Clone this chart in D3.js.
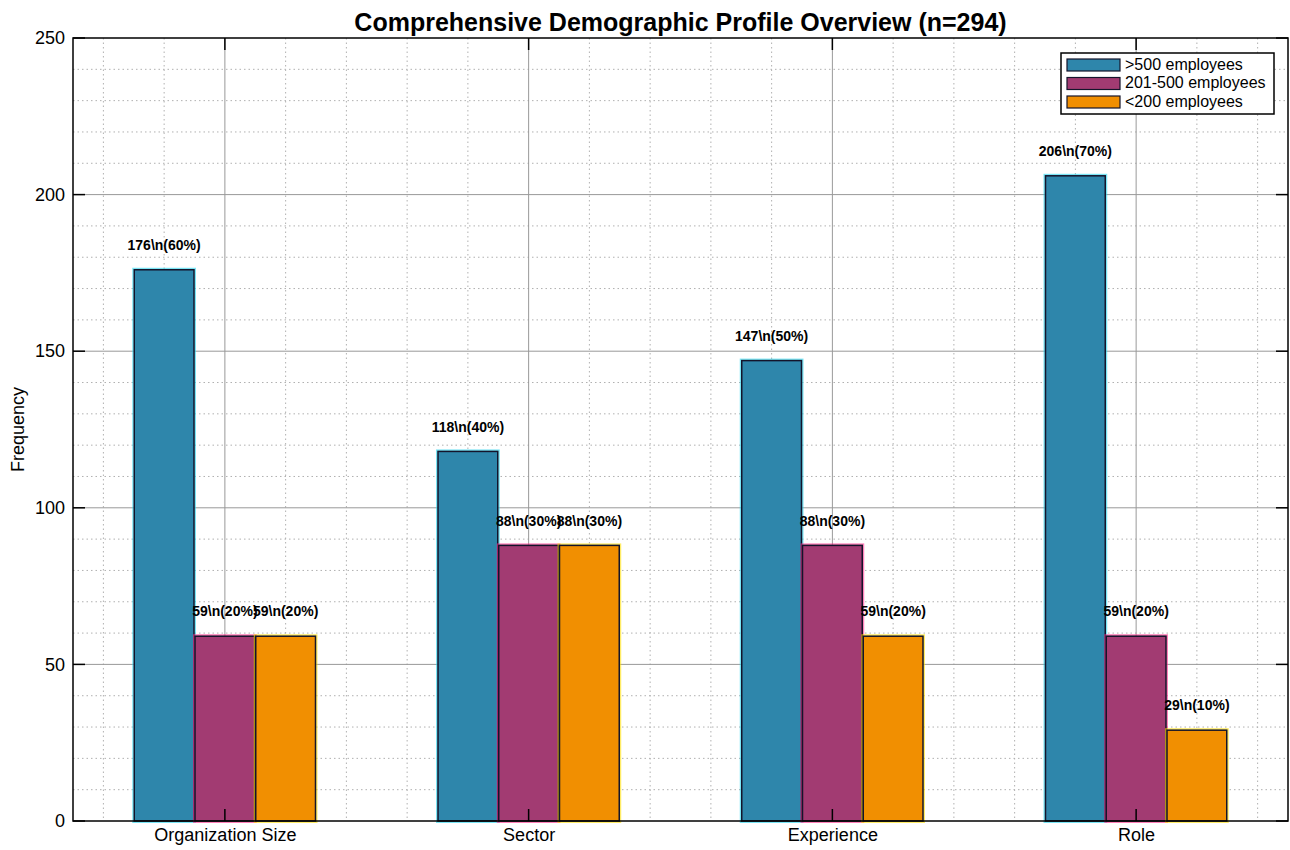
<!DOCTYPE html>
<html>
<head>
<meta charset="utf-8">
<script src="https://cdn.jsdelivr.net/npm/d3@7"></script>
<style>
  body { margin: 0; background: #fff; }
  svg { font-family: "Liberation Sans", Arial, sans-serif; }
</style>
</head>
<body>
<div id="chart"></div>
<script>
const width = 1290, height = 850;
const margin = {top: 38, right: 2, bottom: 29, left: 73};

// data
const categories = ['Organization Size', 'Sector', 'Experience', 'Role'];
const seriesNames = ['>500 employees', '201-500 employees', '<200 employees'];
const largeOrg = [176, 118, 147, 206];
const midOrg = [59, 88, 88, 59];
const smallOrg = [59, 88, 59, 29];
const largePct = [60, 40, 50, 70];
const midPct = [20, 30, 30, 20];
const smallPct = [20, 30, 20, 10];
const yTicks = [0, 50, 100, 150, 200, 250];

const colors = ['#2E86AB', '#A23B72', '#F18F01'];
const glow = ['#22d3ee', '#ff2d8a', '#ffe000'];
const seriesValues = [largeOrg, midOrg, smallOrg];
const seriesPcts = [largePct, midPct, smallPct];

const svg = d3.select('#chart')
    .append('svg')
    .attr('width', width)
    .attr('height', height);

const x = d3.scaleLinear()
    .domain([-0.5, categories.length - 0.5])
    .range([margin.left, width - margin.right]);

const y = d3.scaleLinear()
    .domain([0, 250])
    .range([height - margin.bottom, margin.top]);

const barW = 0.2;

// minor grid (dotted)
const minorX = d3.range(-0.4, categories.length - 0.5, 0.2).filter(v => Math.abs(v - Math.round(v)) > 0.05);
svg.append('g')
    .selectAll('line')
    .data(minorX)
    .enter().append('line')
    .attr('x1', d => x(d)).attr('x2', d => x(d))
    .attr('y1', y(250)).attr('y2', y(0))
    .attr('stroke', '#b0b0b0')
    .attr('stroke-width', 1)
    .attr('stroke-dasharray', '1.5,3');

const minorY = d3.range(10, 250, 10).filter(v => v % 50 !== 0);
svg.append('g')
    .selectAll('line')
    .data(minorY)
    .enter().append('line')
    .attr('x1', x.range()[0]).attr('x2', x.range()[1])
    .attr('y1', d => y(d)).attr('y2', d => y(d))
    .attr('stroke', '#b0b0b0')
    .attr('stroke-width', 1)
    .attr('stroke-dasharray', '1.5,3');

// major grid
svg.append('g')
    .selectAll('line')
    .data(d3.range(categories.length))
    .enter().append('line')
    .attr('x1', d => x(d)).attr('x2', d => x(d))
    .attr('y1', y(250)).attr('y2', y(0))
    .attr('stroke', '#999')
    .attr('stroke-width', 1);

svg.append('g')
    .selectAll('line')
    .data(yTicks.slice(1, -1))
    .enter().append('line')
    .attr('x1', x.range()[0]).attr('x2', x.range()[1])
    .attr('y1', d => y(d)).attr('y2', d => y(d))
    .attr('stroke', '#999')
    .attr('stroke-width', 1);

// bars
seriesValues.forEach((vals, s) => {
    const off = (s - 1) * barW;
    const g = svg.append('g');
    // glow edge
    g.selectAll('rect.glow')
        .data(vals)
        .enter().append('rect')
        .attr('x', (d, i) => x(i + off - barW / 2) + 0.5)
        .attr('y', d => y(d))
        .attr('width', x(barW) - x(0) - 1)
        .attr('height', d => y(0) - y(d))
        .attr('fill', colors[s])
        .attr('stroke', glow[s])
        .attr('stroke-width', 4)
        .attr('stroke-opacity', 0.6);
    g.selectAll('rect.bar')
        .data(vals)
        .enter().append('rect')
        .attr('class', 'bar')
        .attr('x', (d, i) => x(i + off - barW / 2) + 0.5)
        .attr('y', d => y(d))
        .attr('width', x(barW) - x(0) - 1)
        .attr('height', d => y(0) - y(d))
        .attr('fill', colors[s])
        .attr('stroke', '#14142b')
        .attr('stroke-width', 1.5);
});

// value labels
seriesValues.forEach((vals, s) => {
    const off = (s - 1) * barW;
    svg.append('g')
        .selectAll('text')
        .data(vals)
        .enter().append('text')
        .attr('x', (d, i) => x(i + off))
        .attr('y', d => y(d + 7.5))
        .attr('text-anchor', 'middle')
        .attr('dominant-baseline', 'middle')
        .attr('font-size', 14)
        .attr('font-weight', 'bold')
        .attr('fill', '#000')
        .text((d, i) => `${d}\\n(${seriesPcts[s][i]}%)`);
});

// frame
svg.append('rect')
    .attr('x', x.range()[0]).attr('y', y(250))
    .attr('width', x.range()[1] - x.range()[0])
    .attr('height', y(0) - y(250))
    .attr('fill', 'none')
    .attr('stroke', '#000')
    .attr('stroke-width', 1.5);

// axes with inward ticks
const yLeft = svg.append('g')
    .attr('transform', `translate(${x.range()[0]},0)`)
    .call(d3.axisLeft(y).tickValues(yTicks).tickSize(0).tickPadding(8));
yLeft.select('.domain').remove();
yLeft.selectAll('text').attr('font-size', 18).attr('font-family', '"Liberation Sans", Arial, sans-serif').attr('fill', '#000');

const xBottom = svg.append('g')
    .attr('transform', `translate(0,${y(0)})`)
    .call(d3.axisBottom(x).tickValues(d3.range(categories.length)).tickFormat(i => categories[i]).tickSize(0).tickPadding(7));
xBottom.select('.domain').remove();
xBottom.selectAll('text').attr('font-size', 18).attr('font-family', '"Liberation Sans", Arial, sans-serif').attr('fill', '#000');

// inward tick marks
const tickLen = 12;
svg.append('g').selectAll('line')
    .data(yTicks)
    .enter().append('line')
    .attr('x1', x.range()[0]).attr('x2', x.range()[0] + tickLen)
    .attr('y1', d => y(d)).attr('y2', d => y(d))
    .attr('stroke', '#000').attr('stroke-width', 1.5);
svg.append('g').selectAll('line')
    .data(yTicks)
    .enter().append('line')
    .attr('x1', x.range()[1]).attr('x2', x.range()[1] - tickLen)
    .attr('y1', d => y(d)).attr('y2', d => y(d))
    .attr('stroke', '#000').attr('stroke-width', 1.5);
svg.append('g').selectAll('line')
    .data(d3.range(categories.length))
    .enter().append('line')
    .attr('x1', d => x(d)).attr('x2', d => x(d))
    .attr('y1', y(0)).attr('y2', y(0) - tickLen)
    .attr('stroke', '#000').attr('stroke-width', 1.5);
svg.append('g').selectAll('line')
    .data(d3.range(categories.length))
    .enter().append('line')
    .attr('x1', d => x(d)).attr('x2', d => x(d))
    .attr('y1', y(250)).attr('y2', y(250) + tickLen)
    .attr('stroke', '#000').attr('stroke-width', 1.5);

// title
svg.append('text')
    .attr('x', (x.range()[0] + x.range()[1]) / 2)
    .attr('y', 31)
    .attr('text-anchor', 'middle')
    .attr('font-size', 25)
    .attr('font-weight', 'bold')
    .text('Comprehensive Demographic Profile Overview (n=294)');

// y label
svg.append('text')
    .attr('transform', `translate(24,${(y(0) + y(250)) / 2}) rotate(-90)`)
    .attr('text-anchor', 'middle')
    .attr('font-size', 18)
    .text('Frequency');

// legend
const legend = svg.append('g').attr('transform', 'translate(1061,53)');
legend.append('rect')
    .attr('width', 213).attr('height', 61)
    .attr('fill', '#fff')
    .attr('stroke', '#000')
    .attr('stroke-width', 1.5);
seriesNames.forEach((name, i) => {
    const row = legend.append('g').attr('transform', `translate(6,${6 + i * 18.5})`);
    row.append('rect')
        .attr('width', 53).attr('height', 12)
        .attr('fill', colors[i])
        .attr('stroke', '#14142b')
        .attr('stroke-width', 1.2);
    row.append('text')
        .attr('x', 58).attr('y', 6.5)
        .attr('dominant-baseline', 'middle')
        .attr('font-size', 16)
        .text(name);
});
</script>
</body>
</html>
